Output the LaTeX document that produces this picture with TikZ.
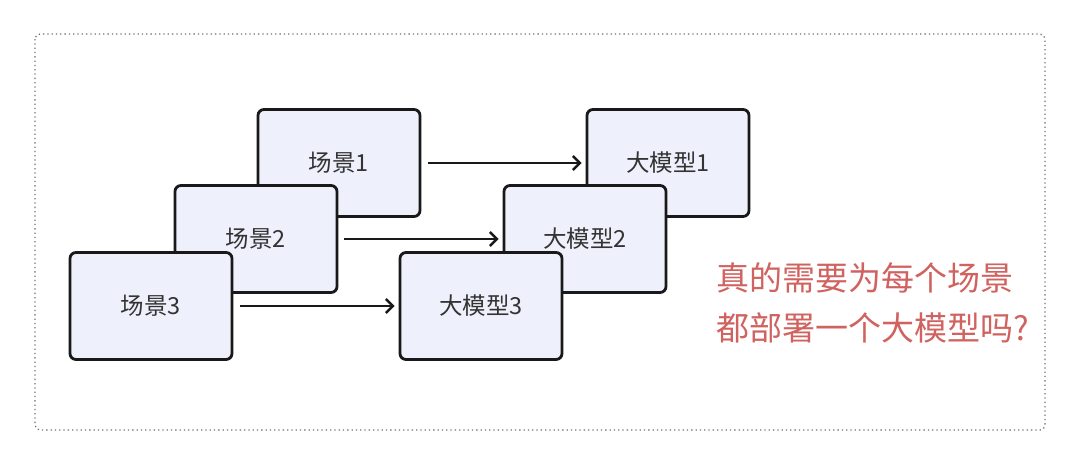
\documentclass[tikz,border=0pt]{standalone}
\usepackage{fontspec}
\setmainfont{Noto Sans CJK SC}
\usetikzlibrary{arrows.meta}
\definecolor{boxfill}{HTML}{EEF1FB}
\definecolor{qred}{HTML}{D0625F}
\begin{document}
\begin{tikzpicture}[x=1pt,y=-1pt,
  card/.style={draw=black!90, line width=2.8pt, rounded corners=6pt, fill=boxfill,
    minimum width=162pt, minimum height=107pt, inner sep=0pt, font=\fontsize{23.5}{28}\selectfont, text=black!80},
  link/.style={line width=2.4pt, -{Straight Barb[length=7pt,width=14pt,line width=2.4pt]}, draw=black!90}]
\useasboundingbox (0,0) rectangle (1080,464);
\fill[white] (0,0) rectangle (1080,464);
\draw[gray!90!black, line width=1.3pt, dash pattern=on 1.3pt off 3pt, rounded corners=5pt] (35,34) rectangle (1045,430);
% left stack
\node[card] (s1) at (339,163) {场景1};
\node[card] (s2) at (256,239) {场景2};
\node[card] (s3) at (151,306) {场景3};
% right stack
\node[card] (m1) at (668,163) {大模型1};
\node[card] (m2) at (585,239) {大模型2};
\node[card] (m3) at (481,306) {大模型3};
\draw[link, shorten <=7pt, shorten >=4pt] (s1.east |- 0,163) -- (m1.west |- 0,163);
\draw[link, shorten <=6pt, shorten >=4pt] (s2.east |- 0,239) -- (m2.west |- 0,239);
\draw[link, shorten <=7pt, shorten >=4pt] (s3.east |- 0,306) -- (m3.west |- 0,306);
\node[anchor=west, text=qred, font=\fontsize{33}{50}\selectfont, align=left, inner sep=0pt] (q) at (716,303)
  {真的需要为每个场景\\都部署一个大模型吗?};
\end{tikzpicture}
\end{document}
